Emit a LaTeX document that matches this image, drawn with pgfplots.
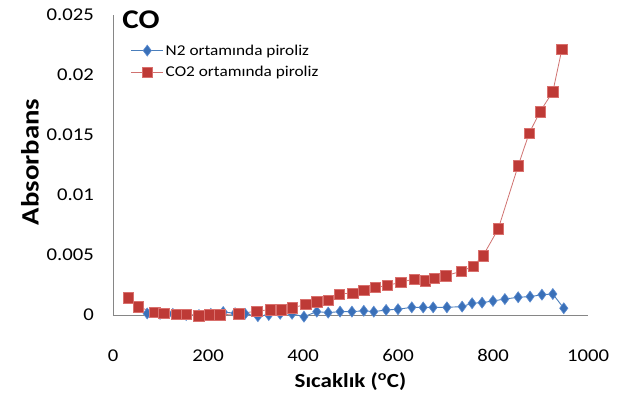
\documentclass[border=0pt]{standalone}
\usepackage{fontspec}
\setmainfont{Carlito}[FakeStretch=1.15]
\usepackage{pgfplots}
\usepackage{pgfplotstable}
\pgfplotsset{compat=1.18}

\definecolor{nline}{HTML}{4A7EBB}
\definecolor{nfill}{HTML}{3A70B8}
\definecolor{ndraw}{HTML}{5B8BD0}
\definecolor{cline}{HTML}{D07270}
\definecolor{cfill}{HTML}{BE3A36}
\definecolor{cdraw}{HTML}{D9706D}
\definecolor{axgray}{HTML}{868686}

% CO absorbance, pyrolysis under N2
\pgfplotstableread{
T    A
72   0.00013
99   0.00010
126  0.00010
154  0.00000
181  0.00000
206  0.00010
232  0.00025
257  0.00015
278  0.00010
305  -0.00010
328  0.00000
352  0.00010
377  0.00010
402  -0.00014
429  0.00028
453  0.00020
478  0.00028
503  0.00028
528  0.00035
549  0.00028
575  0.00042
600  0.00048
629  0.00064
653  0.00063
674  0.00064
703  0.00064
735  0.00070
756  0.00098
777  0.00103
800  0.00117
825  0.00133
853  0.00148
878  0.00153
903  0.00169
926  0.00175
949  0.00056
}\tabNtwo

% CO absorbance, pyrolysis under CO2
\pgfplotstableread{
T    A
32   0.00142
53   0.00067
88   0.00022
107  0.00014
133  0.00008
154  0.00008
181  -0.00006
204  0.00002
225  0.00002
265  0.00010
303  0.00033
331  0.00044
354  0.00044
377  0.00060
406  0.00088
429  0.00110
453  0.00125
476  0.00175
505  0.00183
528  0.00208
552  0.00229
577  0.00246
606  0.00273
634  0.00300
657  0.00286
676  0.00308
701  0.00328
733  0.00364
758  0.00406
779  0.00494
811  0.00717
853  0.01244
876  0.01514
899  0.01694
926  0.01861
945  0.02214
}\tabCOtwo

\begin{document}
\begin{tikzpicture}
\path[use as bounding box] (-113pt,-87pt) rectangle (510pt,315pt);
\begin{axis}[
  at={(0pt,0pt)}, anchor=south west,
  scale only axis, width=475pt, height=300pt,
  xmin=0, xmax=1000, ymin=0, ymax=0.025,
  clip=false,
  scaled x ticks=false, scaled y ticks=false,
  axis x line*=bottom, axis y line*=left,
  axis line style={axgray, line width=0.8pt, -},
  major tick length=0pt,
  xtick={0,200,400,600,800,1000},
  xticklabels={0,200,400,600,800,1000},
  ytick={0,0.005,0.01,0.015,0.02,0.025},
  yticklabels={0,0.005,0.01,0.015,0.02,0.025},
  xticklabel style={font=\fontsize{18}{20}\selectfont, anchor=base, yshift=-46pt, inner sep=0pt},
  yticklabel style={font=\fontsize{18}{20}\selectfont, anchor=east, xshift=-19pt, inner sep=0pt},
  xlabel={Sıcaklık (\textsuperscript{o}C)},
  ylabel={Absorbans},
  xlabel style={font=\fontsize{20}{22}\selectfont\bfseries, at={(axis description cs:0.5,-0.223)}, anchor=center},
  ylabel style={font=\fontsize{25}{27}\selectfont\bfseries, at={(axis description cs:-0.175,0.51)}, anchor=center},
  legend style={at={(axis description cs:0.035,0.912)}, anchor=north west, draw=none, fill=none,
    font=\fontsize{15}{17}\selectfont, row sep=6pt, inner sep=1pt},
  legend cell align=left,
  legend image code/.code={%
    \draw[mark repeat=2, mark phase=2, #1] plot coordinates {(0pt,0pt) (16pt,0pt) (32pt,0pt)};},
]
\addplot[nline, line width=0.9pt, mark=diamond*, mark size=5.5pt,
  mark options={fill=nfill, draw=ndraw, line width=0.6pt}] table[x=T, y=A] {\tabNtwo};
\addlegendentry{N2 ortamında piroliz}
\addplot[cline, line width=0.8pt, mark=square*, mark size=5.2pt,
  mark options={fill=cfill, draw=cdraw, line width=0.6pt}] table[x=T, y=A] {\tabCOtwo};
\addlegendentry{CO2 ortamında piroliz}
\node[font=\fontsize{27}{29}\selectfont\bfseries, anchor=center, inner sep=0pt]
  at (axis description cs:0.059,0.985) {CO};
\end{axis}
\end{tikzpicture}
\end{document}
